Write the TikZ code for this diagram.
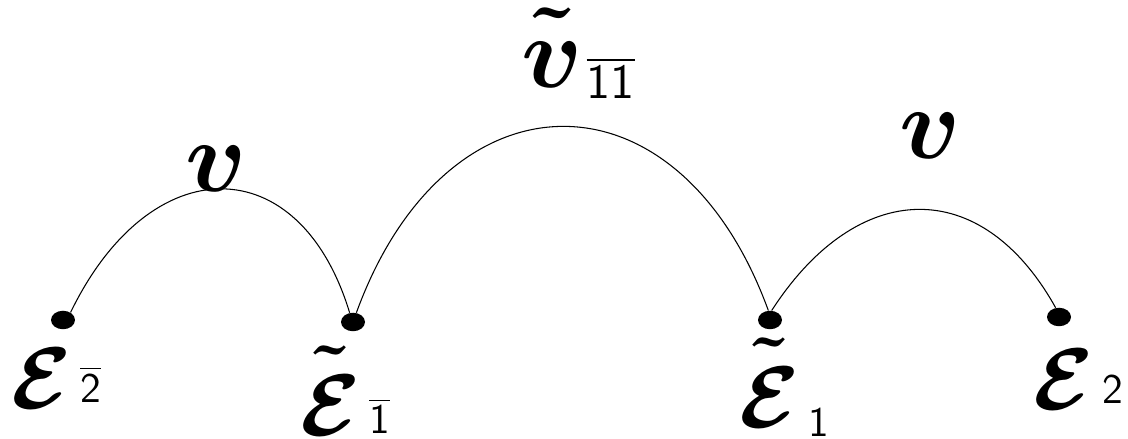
\documentclass[tikz,border=0pt]{standalone}
\usepackage{graphicx}
\usepackage{amsmath, amssymb}
\usepackage{tikz}
\usetikzlibrary{positioning, shapes.geometric}

\newcommand{\levelsym}[1]{\scalebox{2}{\Huge #1}}
\newcommand{\couplingsym}[1]{\scalebox{2.33}{\Huge #1}}
% index beside a symbol, shifted by #1
\newcommand{\sideidx}[2]{\hspace{2.5pt}\raisebox{#1}{\large$#2$}}
\newcommand{\tildeE}{\tilde{\mathcal{E}\rule{0pt}{0.78em}}}

\begin{document}
\begin{tikzpicture}[
    x=0.02cm, y=0.02cm,
    state/.style={ellipse, fill=black, inner sep=0pt, minimum width=0.48cm, minimum height=0.37cm},
    level/.style={inner sep=0pt, anchor=base},
    coupling/.style={inner sep=0pt, anchor=base},
    link/.style={line width=0.6pt, draw=black}
]
\useasboundingbox (0,0) rectangle (1128,439);

% States
\node[state] (s1) at (63,119) {};
\node[state] (s2) at (353,117) {};
\node[state] (s3) at (770,119) {};
\node[state] (s4) at (1059,122) {};

% Level labels
\node[level] (e1) at (56,31) {\levelsym{$\boldsymbol{\mathcal{E}}$\sideidx{1.7pt}{\overline{\mathsf{2}}}}};
\node[level] (e2) at (345,3) {\levelsym{$\boldsymbol{\tildeE}$\sideidx{0.6pt}{\overline{\mathsf{1}}}}};
\node[level] (e3) at (784,11) {\levelsym{$\boldsymbol{\tildeE}$\sideidx{-2.4pt}{\mathsf{1}}}};
\node[level] (e4) at (1078,30) {\levelsym{$\boldsymbol{\mathcal{E}}$\sideidx{1.7pt}{\mathsf{2}}}};

% Couplings
\draw[link] (s1.45) .. controls +(80,165) and +(-50,165) .. (s2.110);
\draw[link] (s2.70) .. controls +(90,247) and +(-90,247) .. (s3.100);
\draw[link] (s3.80) .. controls +(86,133) and +(-74,133) .. (s4.110);

\node[coupling] (v1) at (216,247) {\couplingsym{$\boldsymbol{v}$}};
\node[coupling] (v2) at (578,351) {\couplingsym{$\boldsymbol{\tilde{v\rule{0pt}{0.54em}}}$\hspace{1pt}\raisebox{-2.6pt}{\large$\overline{\mathsf{11}}$}}};
\node[coupling] (v3) at (930,280) {\couplingsym{$\boldsymbol{v}$}};

\end{tikzpicture}
\end{document}
